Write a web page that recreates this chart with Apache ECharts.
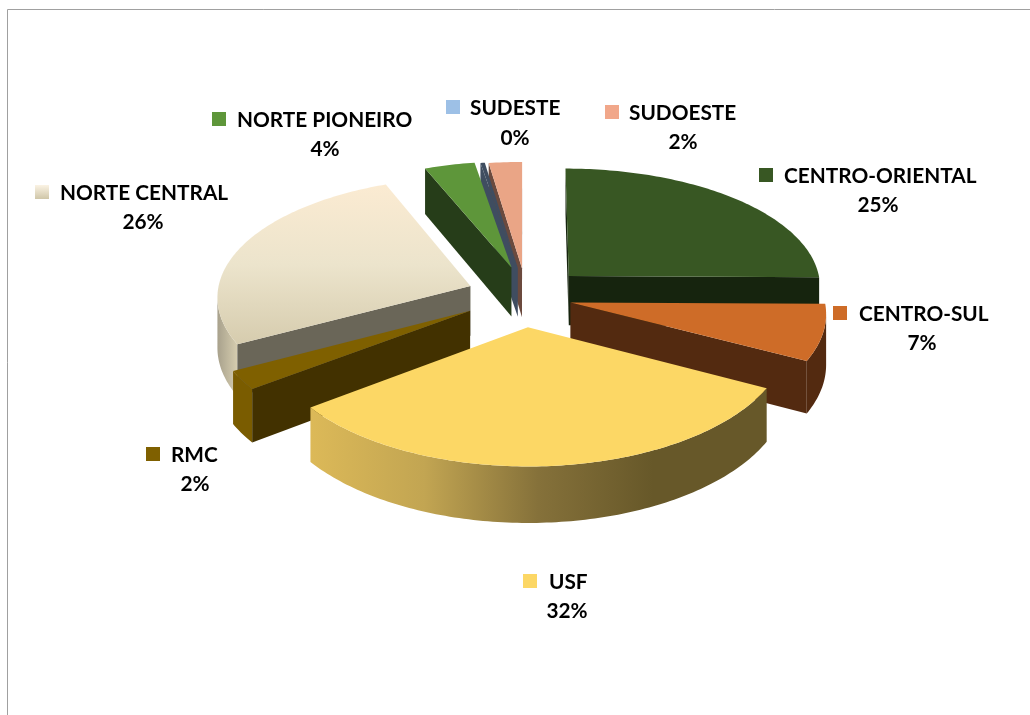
<!DOCTYPE html>
<html>
<head>
<meta charset="utf-8">
<style>html,body{margin:0;padding:0;background:#fff}#c{width:1030px;height:715px}</style>
<script src="https://cdn.jsdelivr.net/npm/echarts@6/dist/echarts.min.js"></script>
</head>
<body>
<div id="c"></div>
<script>
// Data
const categories = ['CENTRO-ORIENTAL','CENTRO-SUL','USF','RMC','NORTE CENTRAL','NORTE PIONEIRO','SUDESTE','SUDOESTE'];
const shares = [25, 7.4, 31.9, 2.45, 26.45, 3.5, 0.3, 2.3];

// Style and layout
const explodes = [0.21, 0.2, 0.28, 0.24, 0.22, 0.2, 0.2, 0.22];
const nudgeX = [7.5, -3, -2, -2, -1.5, 1, 1.5, 2];
const nudgeY = [0.5, 3.5, 0, 2, 2, -3, -2, 1];
const h = (stops, a, b) => ({type:'linear', x:a[0], y:a[1], x2:b[0], y2:b[1],
  colorStops: stops.map((c,i)=>({offset:i/(stops.length-1), color:c}))});
const topFill = ['#385723','#ce6c28',"#fcd765",'#7f6000',
  h(['#fbebd2','#ece4cc','#d6ccae'],[0,0],[0,1]),'#5e963a','#3f4d60','#eaa586'];
const cutFill = ['#16240e','#532a10','#675829','#423100','#6a6658','#263d19','#3f4d60','#6b4a3e'];
const wallFill = ['#16240e','#532a10',
  h(['#675829','#675829','#85713a','#c2a552','#dcb958'],[1,0],[0,0]),'#7a5c00',
  h(['#d6cdaf','#a8a18c'],[1,0],[0,0]),'#263d19','#3f4d60','#6b4a3e'];
const swatchFill = ['#385723','#ce6c28','#fcd765','#7f6000',
  h(['#fbf3e4','#cfc6a8'],[0,0],[0,1]),'#5e963a','#9dc0e6','#f1a78a'];
// swatch left, name left, name middle y, percent centre x, percent middle y
const labelLayout = [
  [759,784,175,878,205],[833,859,313,922,343],[523,549,581,567,611],[146,171,454,195,484],
  [35,60,192,143,222],[212,237,119,325,149],[446,470,107,515,138],[605,629,112,683,142]
];
const view = {cx:524, cy:293, rx:253, ry:120, perspX:0.08, perspY:0.09, depth:50};
const FONT = 'Lato, "Noto Sans", sans-serif';

function project(X, Z, down) {
  const sx = 1 / (1 - view.perspX * Z), sy = 1 / (1 - view.perspY * Z);
  return [view.cx + view.rx * X * sx, view.cy + view.ry * Z * sy + (down ? view.depth * sy : 0)];
}
const total = shares.reduce((a,b)=>a+b,0);
let acc = 0;
const spans = shares.map(v => { const a0 = acc/total*2*Math.PI; acc += v; return [a0, acc/total*2*Math.PI]; });

function cross(a,b,c){ return (b[0]-a[0])*(c[1]-a[1])-(b[1]-a[1])*(c[0]-a[0]); }

function renderItem(params) {
  const i = params.dataIndex;
  const [a0,a1] = spans[i], mid = (a0+a1)/2, e = explodes[i];
  const ox = Math.sin(mid)*e + nudgeX[i]/view.rx, oz = -Math.cos(mid)*e + nudgeY[i]/view.ry;
  const pt = (a,down) => project(ox+Math.sin(a), oz-Math.cos(a), down);
  const apex = down => project(ox, oz, down);
  const n = Math.max(2, Math.ceil((a1-a0)/(Math.PI/180)));
  const arc = [], arcD = [];
  for (let k=0;k<=n;k++){ const a=a0+(a1-a0)*k/n; arc.push(pt(a,false)); arcD.push(pt(a,true)); }
  const rank = Math.round((1 - Math.cos(mid))*1000);
  const children = [];
  const A = apex(false), AD = apex(true), M = pt(mid,false);
  // outer wall: only the segments whose outward side faces the viewer
  const up=[], lo=[];
  for (let k=0;k<n;k++){
    const a=arc[k], b=arc[k+1];
    const sideIn = cross(a,b,A), sideDown = cross(a,b,[a[0],a[1]+10]);
    if (sideIn*sideDown<0){ if(!up.length){up.push(a);lo.push(arcD[k]);} up.push(b); lo.push(arcD[k+1]); }
  }
  if (up.length) children.push({type:'polygon',z2:rank,silent:true,
    shape:{points:up.concat(lo.reverse())},style:{fill:wallFill[i]}});
  // cut faces
  [[arc[0],arcD[0]],[arc[n],arcD[n]]].forEach(([c,cd])=>{
    if (cross(A,c,M)*cross(A,c,[A[0],A[1]+10])<0)
      children.push({type:'polygon',z2:rank+1,silent:true,shape:{points:[A,c,cd,AD]},style:{fill:cutFill[i]}});
  });
  // top
  children.push({type:'polygon',z2:rank+2,silent:true,shape:{points:[A].concat(arc)},style:{fill:topFill[i]}});
  // label
  const L = labelLayout[i];
  children.push({type:'rect',z2:3000,silent:true,shape:{x:L[0],y:L[2]-7,width:14,height:14},style:{fill:swatchFill[i]}});
  const ts = {fill:'#000',fontFamily:FONT,fontWeight:'bold',fontSize:20.8,verticalAlign:'middle'};
  children.push({type:'text',z2:3001,silent:true,style:Object.assign({},ts,{text:categories[i],x:L[1],y:L[2]+1,align:'left'})});
  children.push({type:'text',z2:3001,silent:true,style:Object.assign({},ts,{text:Math.round(shares[i])+'%',x:L[3],y:L[4],align:'center'})});
  return {type:'group',children};
}

const chart = echarts.init(document.getElementById('c'), null, {renderer:'canvas'});
chart.setOption({
  animation:false,
  backgroundColor:'#fff',
  graphic:[
    {type:'line',silent:true,shape:{x1:7.5,y1:9.5,x2:1030,y2:9.5},style:{stroke:'#a0a0a0',lineWidth:1}},
    {type:'line',silent:true,shape:{x1:7.5,y1:9.5,x2:7.5,y2:715},style:{stroke:'#a0a0a0',lineWidth:1}}
  ],
  series:[{type:'custom',coordinateSystem:'none',renderItem,
    data:categories.map((c,i)=>({name:c,value:shares[i]}))}]
});
</script>
</body>
</html>
